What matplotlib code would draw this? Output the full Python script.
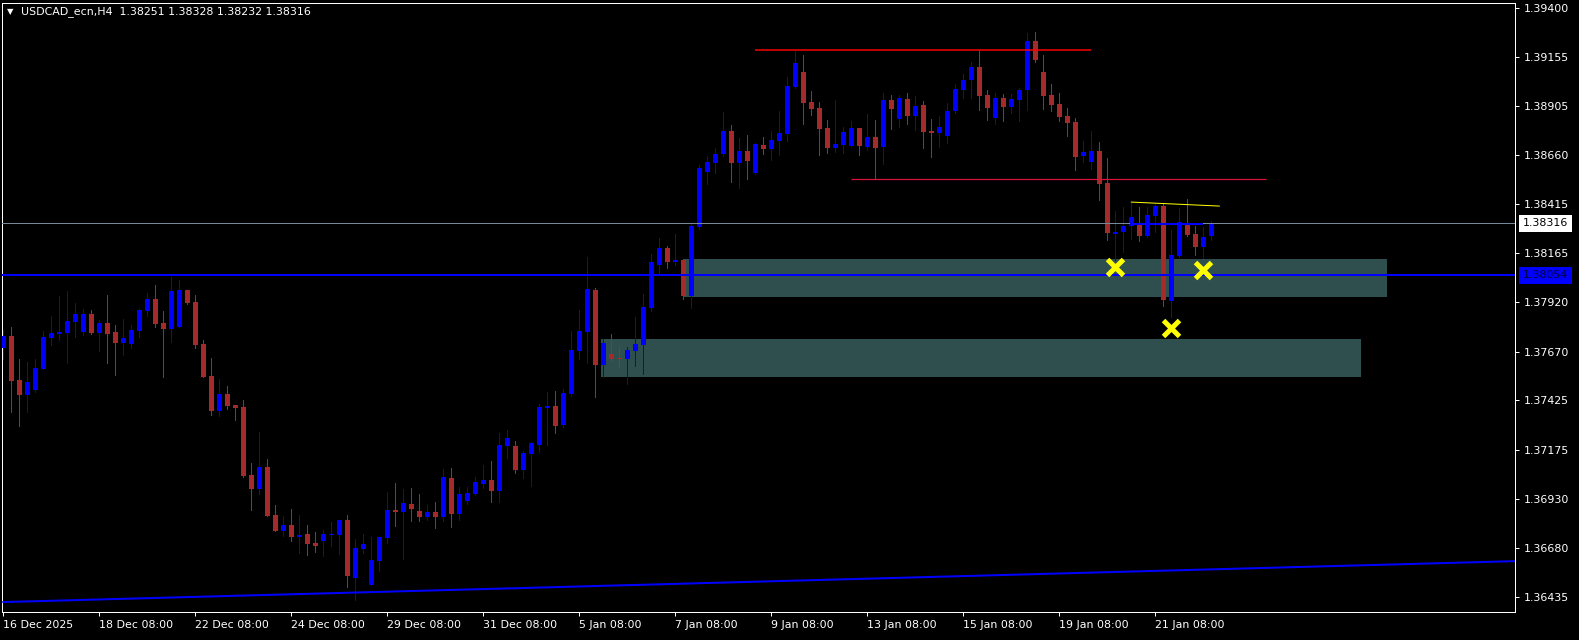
import matplotlib
matplotlib.use("Agg")
import matplotlib.pyplot as plt
import matplotlib.transforms as mtransforms
from matplotlib.patches import Rectangle

# USDCAD H4 candles (oldest first)
opens = [
    1.37689, 1.37749, 1.37527, 1.37452, 1.37478, 1.37583, 1.37739, 1.37760, 1.37765, 1.37819,
    1.37770, 1.37860, 1.37765, 1.37814, 1.37770, 1.37714, 1.37709, 1.37775, 1.37875, 1.37936,
    1.37814, 1.37785, 1.37795, 1.37982, 1.37921, 1.37709, 1.37548, 1.37372, 1.37457, 1.37403,
    1.37393, 1.37050, 1.36979, 1.37090, 1.36848, 1.36768, 1.36798, 1.36737, 1.36753, 1.36708,
    1.36718, 1.36748, 1.36748, 1.36823, 1.36532, 1.36678, 1.36496, 1.36617, 1.36732, 1.36873,
    1.36863, 1.36904, 1.36868, 1.36838, 1.36863, 1.36838, 1.37035, 1.36853, 1.36918, 1.36953,
    1.37004, 1.37024, 1.36969, 1.37196, 1.37196, 1.37075, 1.37155, 1.37201, 1.37387, 1.37398,
    1.37301, 1.37457, 1.37673, 1.37770, 1.37982, 1.37603, 1.37658, 1.37638, 1.37633, 1.37673,
    1.37704, 1.37890, 1.38107, 1.38192, 1.38122, 1.38132, 1.37951, 1.38298, 1.38575, 1.38620,
    1.38665, 1.38782, 1.38620, 1.38680, 1.38570, 1.38711, 1.38691, 1.38731, 1.38767, 1.39002,
    1.39078, 1.38927, 1.38897, 1.38797, 1.38696, 1.38711, 1.38706, 1.38797, 1.38701, 1.38751,
    1.38701, 1.38937, 1.38842, 1.38942, 1.38857, 1.38912, 1.38782, 1.38772, 1.38757, 1.38882,
    1.38988, 1.39037, 1.39103, 1.38962, 1.38847, 1.38947, 1.38902, 1.38937, 1.38988, 1.39234,
    1.39078, 1.38962, 1.38917, 1.38857, 1.38828, 1.38655, 1.38625, 1.38680, 1.38519, 1.38263,
    1.38272, 1.38303, 1.38308, 1.38252, 1.38353, 1.38404, 1.37925, 1.38152, 1.38308, 1.38263,
    1.38197, 1.38251]
highs = [
    1.37780, 1.37795, 1.37633, 1.37618, 1.37633, 1.37775, 1.37851, 1.37951, 1.37977, 1.37916,
    1.37885, 1.37880, 1.37830, 1.37956, 1.37805, 1.37835, 1.37805, 1.37885, 1.37967, 1.38007,
    1.37875, 1.38047, 1.38031, 1.37982, 1.37956, 1.37729, 1.37638, 1.37533, 1.37498, 1.37403,
    1.37427, 1.37111, 1.37266, 1.37130, 1.36899, 1.36843, 1.36878, 1.36848, 1.36798, 1.36763,
    1.36773, 1.36814, 1.36823, 1.36848, 1.36728, 1.36753, 1.36738, 1.36738, 1.36964, 1.37009,
    1.36979, 1.36984, 1.36953, 1.36899, 1.36914, 1.37080, 1.37085, 1.36989, 1.36989, 1.37040,
    1.37100, 1.37121, 1.37261, 1.37276, 1.37220, 1.37170, 1.37215, 1.37408, 1.37468, 1.37473,
    1.37483, 1.37775, 1.37880, 1.38147, 1.37992, 1.37734, 1.37760, 1.37694, 1.37694, 1.37845,
    1.37961, 1.38162, 1.38242, 1.38203, 1.38263, 1.38137, 1.38318, 1.38609, 1.38655, 1.38696,
    1.38877, 1.38812, 1.38746, 1.38762, 1.38721, 1.38751, 1.38782, 1.38882, 1.39053, 1.39184,
    1.39164, 1.38983, 1.38927, 1.38837, 1.38937, 1.38802, 1.38832, 1.38797, 1.38867, 1.38837,
    1.38973, 1.38962, 1.38962, 1.38973, 1.38957, 1.38932, 1.38842, 1.38857, 1.38922, 1.39017,
    1.39068, 1.39129, 1.39184, 1.38988, 1.38973, 1.38967, 1.38967, 1.38998, 1.39275, 1.39280,
    1.39164, 1.39017, 1.38973, 1.38897, 1.38847, 1.38731, 1.38782, 1.38726, 1.38645, 1.38378,
    1.38398, 1.38419, 1.38398, 1.38398, 1.38414, 1.38419, 1.38283, 1.38393, 1.38439, 1.38303,
    1.38298, 1.38328]
lows = [
    1.37633, 1.37367, 1.37296, 1.37367, 1.37468, 1.37583, 1.37704, 1.37729, 1.37613, 1.37744,
    1.37755, 1.37760, 1.37673, 1.37613, 1.37553, 1.37653, 1.37689, 1.37744, 1.37851, 1.37795,
    1.37543, 1.37719, 1.37795, 1.37911, 1.37689, 1.37543, 1.37352, 1.37347, 1.37382, 1.37327,
    1.37040, 1.36873, 1.36953, 1.36843, 1.36768, 1.36743, 1.36718, 1.36657, 1.36647, 1.36662,
    1.36642, 1.36693, 1.36652, 1.36486, 1.36420, 1.36657, 1.36496, 1.36566, 1.36708, 1.36793,
    1.36627, 1.36818, 1.36818, 1.36823, 1.36783, 1.36818, 1.36788, 1.36823, 1.36904, 1.36948,
    1.36984, 1.36913, 1.36913, 1.37135, 1.37060, 1.37035, 1.36994, 1.37165, 1.37201, 1.37261,
    1.37291, 1.37447, 1.37633, 1.37613, 1.37442, 1.37543, 1.37623, 1.37593, 1.37508, 1.37598,
    1.37558, 1.37875, 1.38057, 1.38092, 1.38107, 1.37936, 1.37890, 1.38288, 1.38514, 1.38570,
    1.38655, 1.38524, 1.38494, 1.38540, 1.38565, 1.38665, 1.38635, 1.38660, 1.38731, 1.38998,
    1.38816, 1.38862, 1.38660, 1.38670, 1.38675, 1.38670, 1.38706, 1.38660, 1.38686, 1.38540,
    1.38615, 1.38792, 1.38802, 1.38816, 1.38787, 1.38696, 1.38650, 1.38701, 1.38721, 1.38872,
    1.38947, 1.38947, 1.38887, 1.38837, 1.38816, 1.38832, 1.38872, 1.38832, 1.38887, 1.39129,
    1.38892, 1.38882, 1.38832, 1.38757, 1.38585, 1.38625, 1.38590, 1.38434, 1.38232, 1.38132,
    1.38172, 1.38237, 1.38227, 1.38247, 1.38272, 1.37901, 1.37845, 1.38147, 1.38252, 1.38157,
    1.38142, 1.38232]
closes = [
    1.37749, 1.37522, 1.37452, 1.37517, 1.37588, 1.37744, 1.37765, 1.37770, 1.37825, 1.37860,
    1.37860, 1.37765, 1.37814, 1.37760, 1.37714, 1.37739, 1.37780, 1.37880, 1.37936, 1.37810,
    1.37785, 1.37977, 1.37982, 1.37916, 1.37704, 1.37543, 1.37372, 1.37457, 1.37398, 1.37387,
    1.37045, 1.36979, 1.37090, 1.36843, 1.36768, 1.36798, 1.36737, 1.36748, 1.36703, 1.36693,
    1.36753, 1.36753, 1.36823, 1.36541, 1.36683, 1.36703, 1.36622, 1.36738, 1.36873, 1.36863,
    1.36909, 1.36878, 1.36838, 1.36863, 1.36838, 1.37040, 1.36853, 1.36953, 1.36959, 1.37014,
    1.37024, 1.36969, 1.37201, 1.37235, 1.37075, 1.37160, 1.37211, 1.37393, 1.37398, 1.37296,
    1.37463, 1.37679, 1.37775, 1.37987, 1.37603, 1.37714, 1.37633, 1.37633, 1.37679, 1.37709,
    1.37895, 1.38122, 1.38192, 1.38122, 1.38132, 1.37951, 1.38303, 1.38594, 1.38625, 1.38665,
    1.38782, 1.38620, 1.38680, 1.38630, 1.38716, 1.38691, 1.38736, 1.38772, 1.39007, 1.39124,
    1.38922, 1.38892, 1.38792, 1.38696, 1.38716, 1.38777, 1.38797, 1.38706, 1.38751, 1.38696,
    1.38937, 1.38892, 1.38947, 1.38857, 1.38907, 1.38777, 1.38772, 1.38802, 1.38882, 1.38993,
    1.39037, 1.39103, 1.38957, 1.38897, 1.38947, 1.38902, 1.38942, 1.38988, 1.39234, 1.39139,
    1.38957, 1.38912, 1.38852, 1.38822, 1.38650, 1.38675, 1.38680, 1.38514, 1.38267, 1.38272,
    1.38303, 1.38348, 1.38252, 1.38357, 1.38404, 1.37930, 1.38157, 1.38324, 1.38258, 1.38197,
    1.38247, 1.38316]

header = "USDCAD_ecn,H4  1.38251 1.38328 1.38232 1.38316"

# time scale: one label every 12 bars
time_labels = ["16 Dec 2025", "18 Dec 08:00", "22 Dec 08:00", "24 Dec 08:00",
               "29 Dec 08:00", "31 Dec 08:00", "5 Jan 08:00", "7 Jan 08:00",
               "9 Jan 08:00", "13 Jan 08:00", "15 Jan 08:00", "19 Jan 08:00",
               "21 Jan 08:00"]
time_label_bars = [0, 12, 24, 36, 48, 60, 72, 84, 96, 108, 120, 132, 144]

price_labels = ["1.39400", "1.39155", "1.38905", "1.38660", "1.38415", "1.38165",
                "1.37920", "1.37670", "1.37425", "1.37175", "1.36930", "1.36680",
                "1.36435"]

# drawn objects (bar index from/to, prices)
upper_zone = [85, 173, 1.37945, 1.38137]
lower_zone = [74.7, 169.7, 1.37542, 1.37734]
top_line = [94, 136, 1.39189]
neck_line = [106, 157.8, 1.38538]
yellow_bars = [141, 152]
yellow_prices = [1.38423, 1.38403]
blue_seg = [140.8, 150, 1.38312]
trend_bars = [0, 189]
trend_prices = [1.36410, 1.36616]
blue_level = 1.38054
bid = 1.38316
cross_bars = [139, 150, 146]
cross_prices = [1.38098, 1.38081, 1.37789]

BULL = "#0000ff"
BEAR = "#a52a2a"
PX = 0.72  # one pixel in points at dpi 100

fig = plt.figure(figsize=(15.79, 6.40), dpi=100, facecolor="black")
ax = fig.add_axes([2 / 1579, 1 - 612 / 640, 1513 / 1579, 609 / 640])
ax.set_facecolor("black")
ax.set_xlim(-0.1625, 188.96)
ax.set_ylim(1.36360, 1.39425)

# zones behind the candles
for z in (upper_zone, lower_zone):
    ax.add_patch(Rectangle((z[0], z[2]), z[1] - z[0], z[3] - z[2],
                           facecolor="#2f4f4f", edgecolor="none", zorder=1))

# candles
for i in range(len(opens)):
    o, h, l, c = opens[i], highs[i], lows[i], closes[i]
    col = BULL if c >= o else BEAR
    ax.vlines(i, l, h, colors=col, linewidth=PX, zorder=2, antialiased=False)
    body = max(abs(c - o), 0.00004)
    ax.bar(i, body, bottom=min(o, c), width=0.62, color=col, linewidth=0,
           zorder=3, antialiased=False)

# lines
ax.axhline(bid, color="#778899", linewidth=PX, zorder=4)
ax.axhline(blue_level, color="#0000ff", linewidth=2 * PX, zorder=4)
ax.plot(trend_bars, trend_prices, color="#0000ff", linewidth=2 * PX, zorder=4)
ax.hlines(top_line[2], top_line[0], top_line[1], color="#ff0000", linewidth=1.5 * PX, zorder=4)
ax.hlines(neck_line[2], neck_line[0], neck_line[1], color="#dc143c", linewidth=1.2 * PX, zorder=4)
ax.plot(yellow_bars, yellow_prices, color="#ffff00", linewidth=PX, zorder=4)
ax.hlines(blue_seg[2], blue_seg[0], blue_seg[1], color="#0000ff", linewidth=2 * PX, zorder=4)
ax.plot(cross_bars, cross_prices, linestyle="none", marker="x", markersize=11,
        markeredgewidth=3.6, color="#ffff00", zorder=5)

# axes styling like the terminal
for s in ax.spines.values():
    s.set_color("white")
    s.set_linewidth(PX)

ax.yaxis.tick_right()
ax.set_yticks([float(p) for p in price_labels])
ax.set_yticklabels(price_labels)
ax.tick_params(axis="y", colors="white", length=3, width=PX, pad=3, labelsize=7.9)

ax.set_xticks(time_label_bars)
ax.set_xticklabels(time_labels, ha="left")
ax.tick_params(axis="x", colors="white", length=3, width=PX, pad=3, labelsize=7.9)

# price boxes on the scale
tr = mtransforms.blended_transform_factory(fig.transFigure, ax.transData)
ax.text(1523 / 1579, bid, "%.5f" % bid, transform=tr, ha="left", va="center",
        fontsize=7.9, color="black", clip_on=False,
        bbox=dict(boxstyle="square,pad=0.35", facecolor="white", edgecolor="none"))
ax.text(1523 / 1579, blue_level, "%.5f" % blue_level, transform=tr, ha="left", va="center",
        fontsize=7.9, color="#000040", clip_on=False,
        bbox=dict(boxstyle="square,pad=0.35", facecolor="#0000ff", edgecolor="none"))

# header
fig.text(7 / 1579, 1 - 12 / 640, "\u25bc", color="white", fontsize=6, va="center")
fig.text(21 / 1579, 1 - 12 / 640, header, color="white", fontsize=7.9, va="center")

fig.savefig("out.png", dpi=100, facecolor="black")
